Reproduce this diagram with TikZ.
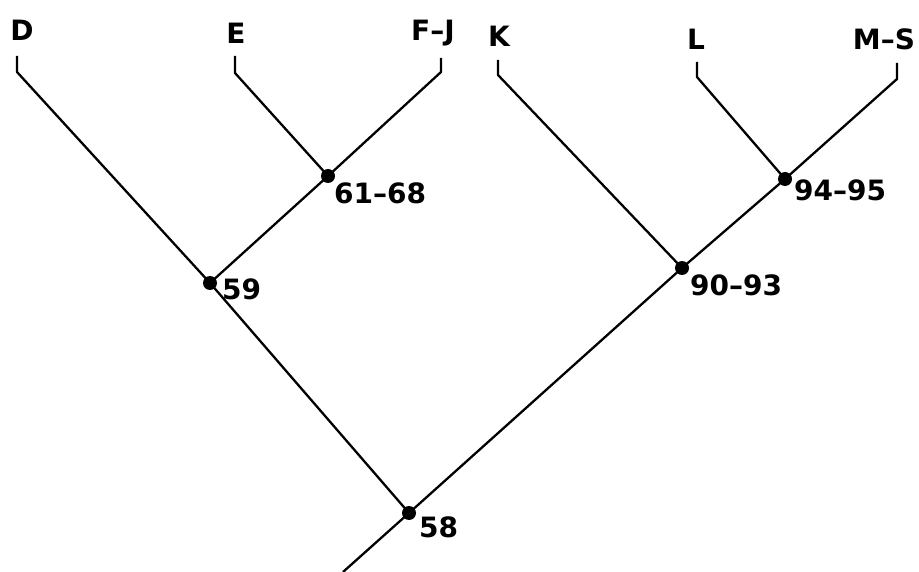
\documentclass[tikz,border=0pt]{standalone}
\usepackage{fontspec}
\setmainfont{DejaVu Sans}
\begin{document}
\begin{tikzpicture}[x=1pt,y=-1pt,
  branch/.style={line width=2.3pt,black,line join=round},
  dot/.style={circle,fill=black,inner sep=0pt,minimum size=14pt},
  leaflabel/.style={font=\bfseries\fontsize{28}{30}\selectfont,inner sep=0pt,anchor=center},
  agelabel/.style={font=\bfseries\fontsize{28}{30}\selectfont,inner sep=0pt,anchor=west}]
\useasboundingbox[fill=white] (0,0) rectangle (919,572);
% leaf labels
\node[leaflabel] (D)  at (22,30) {D};
\node[leaflabel] (E)  at (236,33) {E};
\node[leaflabel] (FJ) at (433,33) {F--J};
\node[leaflabel] (K)  at (499,36) {K};
\node[leaflabel] (L)  at (696,39) {L};
\node[leaflabel] (MS) at (884,39) {M--S};
% stub tops and bends
\coordinate (Dt) at (17,56);  \coordinate (Db) at (17,72);
\coordinate (Et) at (235,56); \coordinate (Eb) at (235,73);
\coordinate (Ft) at (441,58); \coordinate (Fb) at (441,72);
\coordinate (Kt) at (498,60); \coordinate (Kb) at (498,75);
\coordinate (Lt) at (697,62); \coordinate (Lb) at (697,77);
\coordinate (Mt) at (897,63); \coordinate (Mb) at (897,79);
\coordinate (root) at (343,572);
% internal nodes
\node[dot] (n6168) at (328,176) {};
\node[dot] (n59)   at (210,283) {};
\node[dot] (n9495) at (785,179) {};
\node[dot] (n9093) at (682,268) {};
\node[dot] (n58)   at (409,513) {};
% age labels
\node[agelabel] at (334,193) {61--68};
\node[agelabel] at (222,289) {59};
\node[agelabel] at (794,190) {94--95};
\node[agelabel] at (690,285) {90--93};
\node[agelabel] at (419,527) {58};
% branches
\draw[branch] (Dt) -- (Db) -- (n59.center);
\draw[branch] (Et) -- (Eb) -- (n6168.center);
\draw[branch] (Ft) -- (Fb) -- (n6168.center);
\draw[branch] (n6168.center) -- (n59.center);
\draw[branch] (n59.center) -- (n58.center);
\draw[branch] (Kt) -- (Kb) -- (n9093.center);
\draw[branch] (Lt) -- (Lb) -- (n9495.center);
\draw[branch] (Mt) -- (Mb) -- (n9495.center);
\draw[branch] (n9495.center) -- (n9093.center);
\draw[branch] (n9093.center) -- (n58.center);
\draw[branch] (n58.center) -- (root);
\end{tikzpicture}
\end{document}
